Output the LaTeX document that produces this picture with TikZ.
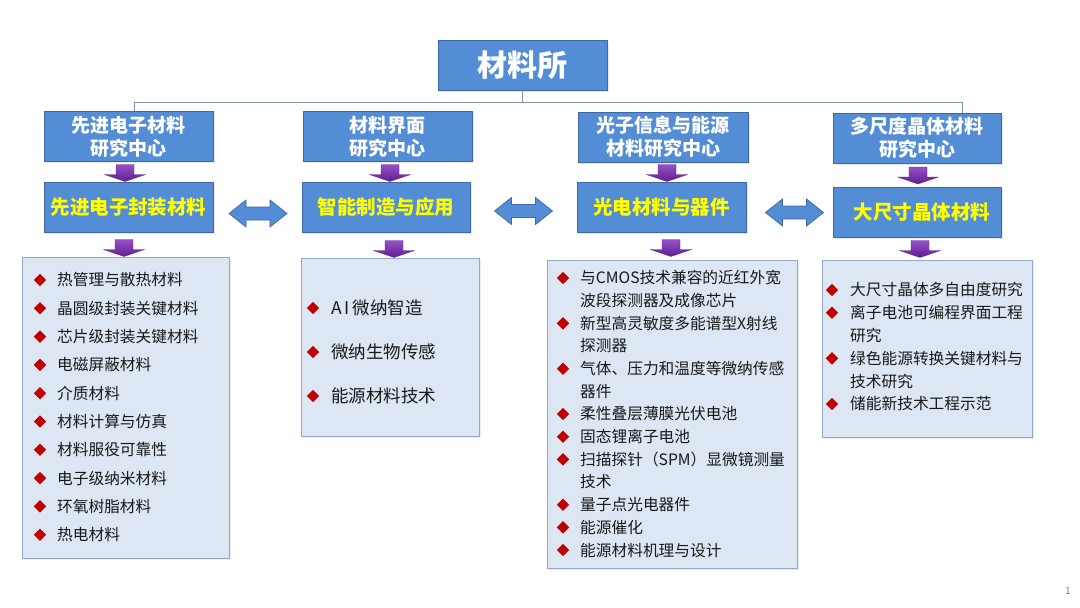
\documentclass[tikz,border=0pt]{standalone}
\usepackage{fontspec}
\setmainfont{Noto Sans CJK SC}
\usetikzlibrary{shapes.geometric,shadows,calc}
\definecolor{boxblue}{RGB}{83,141,213}
\definecolor{boxedge}{RGB}{62,104,165}
\definecolor{listfill}{RGB}{221,230,243}
\definecolor{listedge}{RGB}{150,168,198}
\definecolor{bulred}{RGB}{192,0,0}
\definecolor{linegray}{RGB}{125,148,170}
\definecolor{purtop}{RGB}{150,80,200}
\definecolor{purbot}{RGB}{95,30,145}
\definecolor{ytext}{RGB}{255,255,0}
\definecolor{itemtext}{RGB}{25,25,25}
\begin{document}
\begin{tikzpicture}[x=1pt,y=-1pt,
  bluebox/.style={draw=boxedge, line width=0.8pt, fill=boxblue, inner sep=0pt, align=center,
    drop shadow={opacity=0.18, shadow xshift=1.5pt, shadow yshift=-1.5pt}},
  titlebox/.style={bluebox, minimum width=169pt, minimum height=50pt, text=white,
    font=\fontsize{30}{34}\selectfont\bfseries},
  centerbox/.style={bluebox, minimum height=50pt, text=white,
    font=\fontsize{19}{23}\selectfont\bfseries},
  topicbox/.style={bluebox, minimum height=50pt, text=ytext,
    font=\fontsize{19.5}{23}\selectfont\bfseries},
  listbox/.style={draw=listedge, line width=0.8pt, fill=listfill, inner sep=0pt,
    drop shadow={opacity=0.15, shadow xshift=1.5pt, shadow yshift=-1.5pt}},
  bul/.style={diamond, fill=bulred, inner sep=0pt, minimum width=12.5pt, minimum height=12.5pt},
  item/.style={anchor=west, inner sep=0pt, text=itemtext, font=\fontsize{15.7}{18}\selectfont},
  itembig/.style={anchor=west, inner sep=0pt, text=itemtext, font=\fontsize{17.5}{20}\selectfont},
  conn/.style={draw=linegray, line width=0.9pt},
  purarrow/.pic={\shade[top color=purtop, bottom color=purbot, draw=purbot, line width=0.3pt]
    (-9,-8.5) -- (9,-8.5) -- (9,1.5) -- (20.5,1.5) -- (0,8.5) -- (-20.5,1.5) -- (-9,1.5) -- cycle;},
  dblarrow/.pic={\filldraw[fill=boxblue, draw=boxedge, line width=0.7pt]
    (-29,0) -- (-12,-13.5) -- (-12,-6.5) -- (12,-6.5) -- (12,-13.5) -- (29,0)
    -- (12,13.5) -- (12,6.5) -- (-12,6.5) -- (-12,13.5) -- cycle;}
]
\useasboundingbox[fill=white] (0,0) rectangle (1080,608);

% title
\node[titlebox] (top) at (522.5,65) {材料所};

% research centers
\node[centerbox, minimum width=169pt] (c1) at (128.5,136.5) {先进电子材料\\研究中心};
\node[centerbox, minimum width=169pt] (c2) at (387.5,136.5) {材料界面\\研究中心};
\node[centerbox, minimum width=170pt] (c3) at (663,137) {光子信息与能源\\材料研究中心};
\node[centerbox, minimum width=168pt] (c4) at (917,138) {多尺度晶体材料\\研究中心};

% connector tree
\coordinate (jl) at (134,102);
\coordinate (jr) at (962,102);
\draw[conn] (top.south) -- (top.south |- jl);
\draw[conn] (c1.north -| jl) -- (jl) -- (jr) -- (c4.north -| jr);

% topic boxes
\node[topicbox, minimum width=169pt] (t1) at (128.5,207) {先进电子封装材料};
\node[topicbox, minimum width=168pt] (t2) at (386,207.5) {智能制造与应用};
\node[topicbox, minimum width=169pt] (t3) at (661.5,207) {光电材料与器件};
\node[topicbox, minimum width=168pt] (t4) at (917,212) {\hspace{10pt}大尺寸晶体材料};

% purple arrows centre -> topic
\path (125,173) pic {purarrow};
\path (390,173) pic {purarrow};
\path (667,173) pic {purarrow};
\path (918,175.5) pic {purarrow};

% double arrows between topics
\path (258,213.5) pic {dblarrow};
\path (523.5,211) pic {dblarrow};
\path (794.5,212.5) pic {dblarrow};

% list boxes
\node[listbox, minimum width=207pt, minimum height=301pt] (l1) at (125.5,407.5) {};
\node[listbox, minimum width=178pt, minimum height=178pt] (l2) at (390,347) {};
\node[listbox, minimum width=250pt, minimum height=308pt] (l3) at (672,414) {};
\node[listbox, minimum width=210pt, minimum height=177pt] (l4) at (927,348.5) {};

% purple arrows topic -> list
\path (124,248) pic {purarrow};
\path (394,249) pic {purarrow};
\path (671,248) pic {purarrow};
\path (920,249) pic {purarrow};

% list 1
\foreach \t [count=\i] in {热管理与散热材料,晶圆级封装关键材料,芯片级封装关键材料,电磁屏蔽材料,介质材料,材料计算与仿真,材料服役可靠性,电子级纳米材料,环氧树脂材料,热电材料}{
  \node[bul] (ba\i) at (40,{280+28.3*(\i-1)}) {};
  \node[item] (ia\i) at (57,{280+28.3*(\i-1)}) {\t};
}

% list 2
\foreach \t/\y [count=\i] in {A\,I\,微纳智造/308,微纳生物传感/352,能源材料技术/396}{
  \node[bul] (bb\i) at (313,\y) {};
  \node[itembig] (ib\i) at (331,\y) {\t};
}

% list 3
\foreach \t/\b [count=\i] in {与CMOS技术兼容的近红外宽/1,波段探测器及成像芯片/0,新型高灵敏度多能谱型X射线/1,探测器/0,气体、压力和温度等微纳传感/1,器件/0,柔性叠层薄膜光伏电池/1,固态锂离子电池/1,扫描探针（SPM）显微镜测量/1,技术/0,量子点光电器件/1,能源催化/1,能源材料机理与设计/1}{
  \ifnum\b=1 \node[bul] (bc\i) at (563,{278+22.67*(\i-1)}) {};\fi
  \node[item] (ic\i) at (580,{278+22.67*(\i-1)}) {\t};
}

% list 4
\foreach \t/\b [count=\i] in {大尺寸晶体多自由度研究/1,离子电池可编程界面工程/1,研究/0,绿色能源转换关键材料与/1,技术研究/0,储能新技术工程示范/1}{
  \ifnum\b=1 \node[bul] (bd\i) at (832,{290+22.8*(\i-1)}) {};\fi
  \node[item] (id\i) at (850,{290+22.8*(\i-1)}) {\t};
}

% page number
\node[text=gray, font=\fontsize{10}{11}\selectfont, inner sep=0pt] (pg) at (1068,591) {1};
\end{tikzpicture}
\end{document}
